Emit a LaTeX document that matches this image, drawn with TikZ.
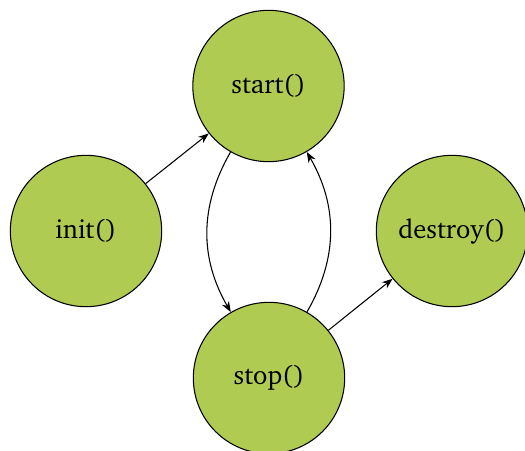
\documentclass[tikz,border=0pt]{standalone}
\usepackage[T1]{fontenc}
\usepackage{charter}
\usetikzlibrary{arrows.meta}
\definecolor{phasegreen}{RGB}{176,203,82}
\newcommand{\px}{0.01321cm}

\begin{document}
\begin{tikzpicture}[x=\px, y=-\px,
    phase/.style={draw, circle, fill=phasegreen, minimum size=2cm, inner sep=0pt, line width=0.4pt},
    flow/.style={-{Stealth[length=4pt,width=3pt]}, line width=0.4pt}]
    \useasboundingbox (0,0) rectangle (525,450);

    % phases
    \node[phase] (start)   at (268.5,86) {start()};
    \node[phase] (init)    at (86,231)   {init()};
    \node[phase] (destroy) at (452,231)  {destroy()};
    \node[phase] (stop)    at (269,378)  {stop()};

    % transitions
    \draw[flow] (init) -- (start);
    \draw[flow] (start) to[bend right=30] (stop);
    \draw[flow] (stop) to[bend right=30] (start);
    \draw[flow] (stop) -- (destroy);

\end{tikzpicture}
\end{document}
